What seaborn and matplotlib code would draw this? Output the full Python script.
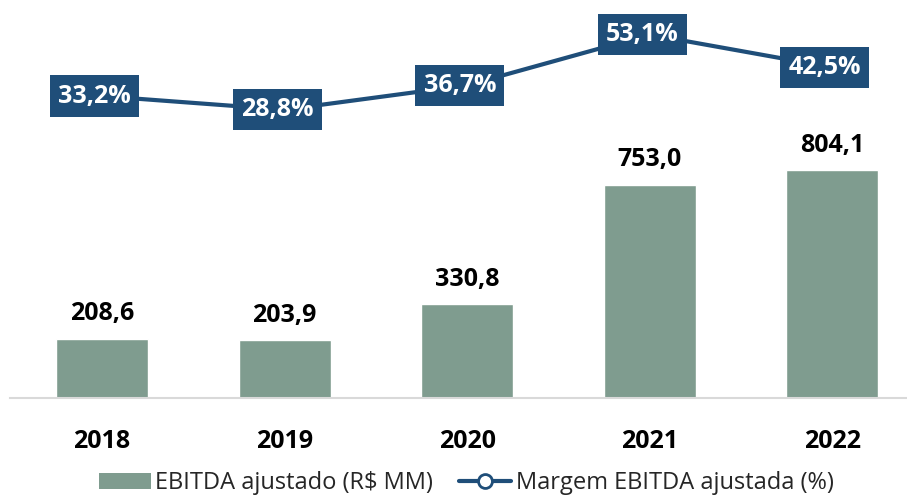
import matplotlib
matplotlib.use("Agg")
import matplotlib.pyplot as plt
import seaborn as sns
import pandas as pd
from matplotlib.patches import Patch
from matplotlib.lines import Line2D

years = ["2018", "2019", "2020", "2021", "2022"]
ebitda = [208.6, 203.9, 330.8, 753.0, 804.1]
margem = [33.2, 28.8, 36.7, 53.1, 42.5]
ebitda_labels = ["208,6", "203,9", "330,8", "753,0", "804,1"]
margem_labels = ["33,2%", "28,8%", "36,7%", "53,1%", "42,5%"]
legend_labels = ["EBITDA ajustado (R$ MM)", "Margem EBITDA ajustada (%)"]

sns.set_theme(style="white")
plt.rcParams['font.family'] = ['Open Sans', 'DejaVu Sans']

BAR = "#7F9C8F"
BLUE = "#1F4E79"

df = pd.DataFrame({"ano": years, "ebitda": ebitda, "margem": margem})

fig = plt.figure(figsize=(9.07, 4.97), dpi=100)
ax = fig.add_axes([10 / 907, 99 / 497, 897 / 907, 398 / 497])

sns.barplot(data=df, x="ano", y="ebitda", color=BAR, width=0.504,
            saturation=1, ax=ax)
ax.set_xlim(-0.504, 4.41)
ax.set_ylim(0, 1404)
ax.set_xlabel("")
ax.set_ylabel("")
ax.set_yticks([])
for s in ["top", "right", "left"]:
    ax.spines[s].set_visible(False)
ax.spines["bottom"].set_color("#D9D9D9")
ax.spines["bottom"].set_linewidth(1.5)
ax.tick_params(axis="x", length=0, pad=22)
for t in ax.get_xticklabels():
    t.set_fontsize(18)
    t.set_fontweight("bold")
    t.set_color("black")

for i, (v, lab) in enumerate(zip(ebitda, ebitda_labels)):
    ax.annotate(lab, (i, v), xytext=(0, 9), textcoords="offset points",
                ha="center", va="bottom", fontsize=18, fontweight="bold",
                color="black")

ax2 = ax.twinx()
sns.lineplot(x=list(range(len(years))), y=margem, color=BLUE, linewidth=3,
             ax=ax2, legend=False)
ax2.set_ylim(-64.5, 64.3)
ax2.set_xlim(-0.504, 4.41)
ax2.set_yticks([])
for s in ["top", "right", "left", "bottom"]:
    ax2.spines[s].set_visible(False)

for i, (v, lab) in enumerate(zip(margem, margem_labels)):
    ax2.text(i - 0.04, v, lab, ha="center", va="center", fontsize=18,
             fontweight="bold", color="white",
             bbox=dict(boxstyle="square,pad=0.33", fc=BLUE, ec="none"))

handles = [Patch(facecolor=BAR, edgecolor="none"),
           Line2D([0], [0], color=BLUE, linewidth=3, marker="o",
                  markersize=10, markerfacecolor="white",
                  markeredgecolor=BLUE, markeredgewidth=2)]
fig.legend(handles, legend_labels, loc="center", bbox_to_anchor=(0.514, 0.028),
           ncol=2, frameon=False, fontsize=17, handlelength=2.2,
           handleheight=0.7, handletextpad=0.2, columnspacing=1.1)

fig.savefig("out.png", dpi=100)
